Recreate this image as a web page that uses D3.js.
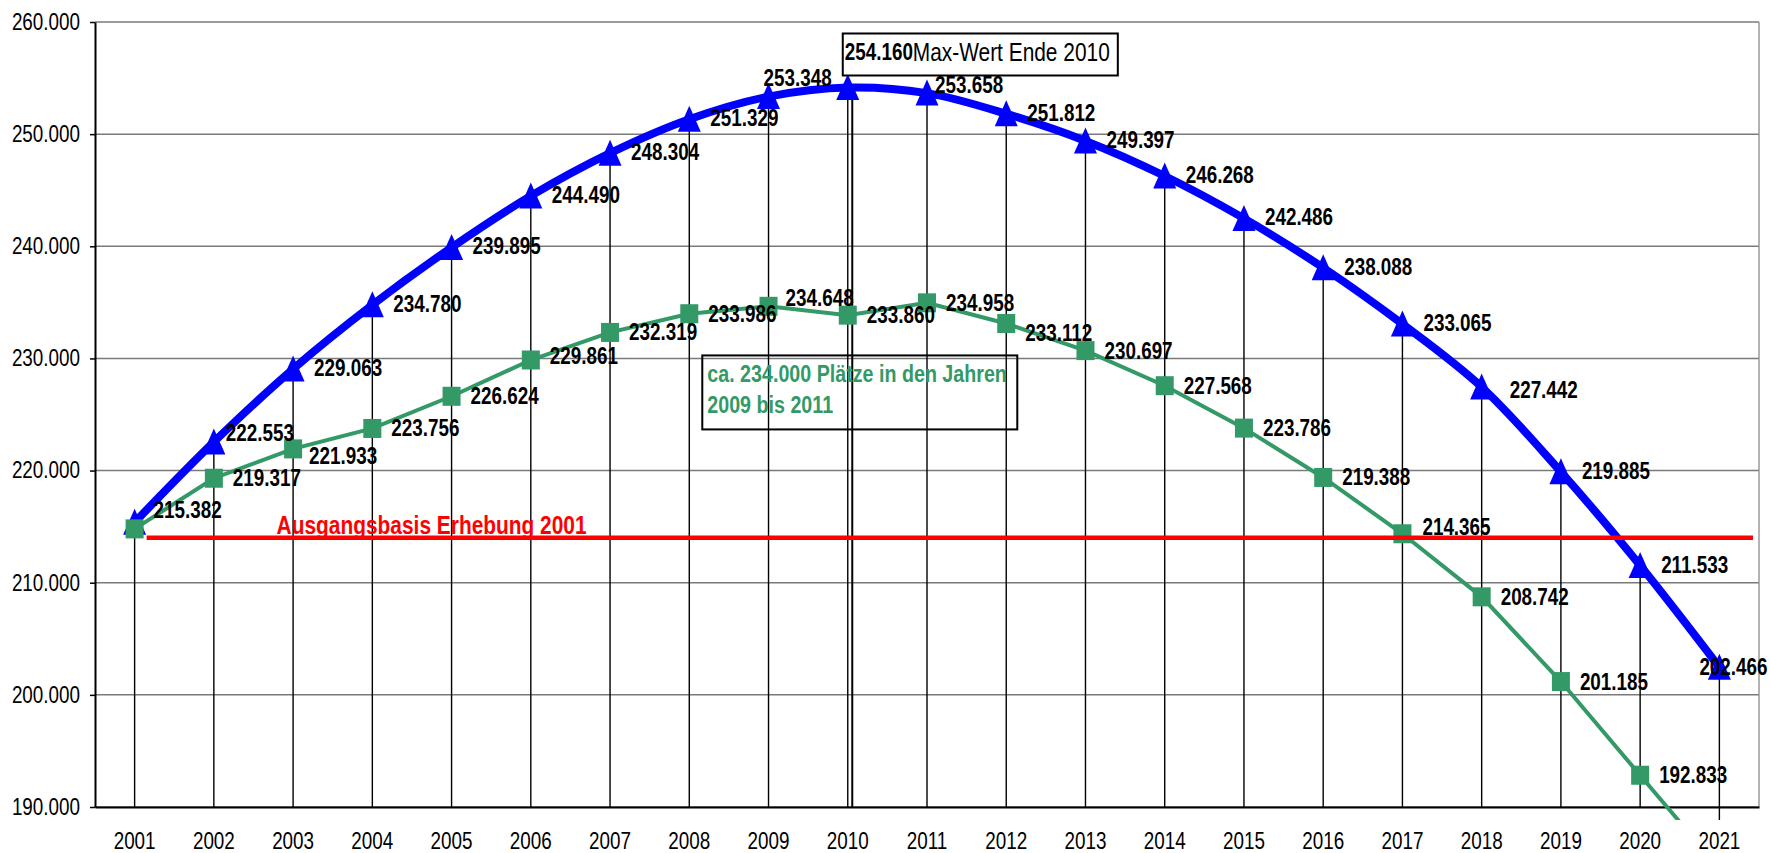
<!DOCTYPE html>
<html>
<head>
<meta charset="utf-8">
<script src="https://cdn.jsdelivr.net/npm/d3@7"></script>
<style>
body { margin: 0; background: #fff; }
</style>
</head>
<body>
<svg id="chart" width="1770" height="853"></svg>
<script>

var years = ["2001", "2002", "2003", "2004", "2005", "2006", "2007", "2008", "2009", "2010", "2011",
             "2012", "2013", "2014", "2015", "2016", "2017", "2018", "2019", "2020", "2021"];

// upper series (blue triangles)
var demand = [215382, 222553, 229063, 234780, 239895, 244490, 248304, 251329, 253348, 254160, 253658,
              251812, 249397, 246268, 242486, 238088, 233065, 227442, 219885, 211533, 202466];

// lower series (green squares), first and last point are unlabelled
var places = [214800, 219317, 221933, 223756, 226624, 229861, 232319, 233986, 234648, 233860, 234958,
              233112, 230697, 227568, 223786, 219388, 214365, 208742, 201185, 192833, 184500];
var placesNoLabel = ["2001", "2021"];

var yTicks = [190000, 200000, 210000, 220000, 230000, 240000, 250000, 260000];

var baseValue = 214000;
var baseLabel = "Ausgangsbasis Erhebung 2001";
var maxNote = "Max-Wert Ende 2010";
var plateauNote = ["ca. 234.000 Plätze in den Jahren", "2009 bis 2011"];

// hand-moved data labels: [dx, dy] from the point
var demandNudge = {"2001": [19, -12], "2002": [12, -9], "2009": [-5, -19], "2010": [-3, -35],
                   "2011": [8, -8], "2018": [28, 3], "2021": [-20, 0]};
var placesNudge = {"2003": [16, 7], "2006": [19, -4], "2009": [17, -8], "2012": [19, 9], "2017": [20, -7]};

var svg = d3.select("#chart"),
    margin = {top: 22, right: 11, bottom: 46, left: 95},
    width = +svg.attr("width") - margin.left - margin.right,
    height = +svg.attr("height") - margin.top - margin.bottom,
    g = svg.append("g").attr("transform", "translate(" + margin.left + "," + margin.top + ")");

var de = d3.formatLocale({decimal: ",", thousands: ".", grouping: [3], currency: ["", " €"]});
var fmt = de.format(",d");

// narrow font if there is one, otherwise squeeze Liberation Sans
function fontAvailable(name) {
	var ctx = document.createElement("canvas").getContext("2d");
	ctx.font = "40px monospace";
	var w0 = ctx.measureText("254.160 Max-Wert").width;
	ctx.font = "40px '" + name + "', monospace";
	return ctx.measureText("254.160 Max-Wert").width !== w0;
}
var hasNarrow = fontAvailable("Liberation Sans Narrow");
var fontFamily = hasNarrow ? "'Liberation Sans Narrow', 'Arial Narrow', sans-serif" : "'Liberation Sans', Arial, sans-serif";
var squeeze = hasNarrow ? 1 : 0.82;

function narrow(sel) {
	sel.style("font-family", fontFamily).each(function() {
		if (squeeze === 1) return;
		var t = d3.select(this), ax = +t.attr("x") || 0;
		t.attr("transform", "translate(" + ax + ",0) scale(" + squeeze + ",1) translate(" + (-ax) + ",0)");
	});
}

var x = d3.scaleBand().domain(years).range([0, width]),
    y = d3.scaleLinear().domain([190000, 260000]).range([height, 0]);

function cx(yr) { return x(yr) + x.bandwidth() / 2; }

g.append("defs").append("clipPath").attr("id", "plotclip")
	.append("rect").attr("x", -20).attr("y", -20).attr("width", width + 40).attr("height", height + 33);

// gridlines + frame
g.append("g").selectAll("line")
	.data(yTicks)
	.enter().append("line")
		.attr("x1", 0).attr("x2", width)
		.attr("y1", function(d) { return y(d); })
		.attr("y2", function(d) { return y(d); })
		.attr("stroke", "#7a7a7a")
		.attr("stroke-width", 1.5);

g.append("line")
	.attr("x1", width).attr("x2", width)
	.attr("y1", 0).attr("y2", height)
	.attr("stroke", "#9a9a9a")
	.attr("stroke-width", 1.5);

// drop lines
g.append("g").selectAll("line")
	.data(years)
	.enter().append("line")
		.attr("x1", cx).attr("x2", cx)
		.attr("y1", function(d, i) { return y(demand[i]); })
		.attr("y2", function(d, i) { return Math.min(y(Math.min(places[i], y.domain()[0])), height + 13); })
		.attr("stroke", "#000")
		.attr("stroke-width", 1.4);

var iMax = d3.maxIndex(demand);
g.append("line")
	.attr("x1", cx(years[iMax]) + 4.5).attr("x2", cx(years[iMax]) + 4.5)
	.attr("y1", y(demand[iMax]) + 6).attr("y2", height)
	.attr("stroke", "#000")
	.attr("stroke-width", 2);

// axes
var yAxis = g.append("g")
	.call(d3.axisLeft(y).tickValues(yTicks).tickSize(5).tickSizeOuter(0).tickPadding(10).tickFormat(fmt));
yAxis.select(".domain").attr("stroke", "#000").attr("stroke-width", 2);
yAxis.selectAll(".tick line").attr("stroke", "#000").attr("stroke-width", 1.5);
yAxis.selectAll("text").attr("fill", "#000").style("font-size", "23px").call(narrow);

var xAxis = g.append("g")
	.attr("transform", "translate(0," + height + ")")
	.call(d3.axisBottom(x).tickSize(0).tickSizeOuter(0).tickPadding(26));
xAxis.select(".domain").attr("stroke", "#000").attr("stroke-width", 2);
xAxis.selectAll("text").attr("fill", "#000").style("font-size", "23px").call(narrow);

// green plateau note
var px0 = cx("2008") + 13, py0 = y(230000) - 3;
g.append("rect")
	.attr("x", px0).attr("y", py0)
	.attr("width", 315).attr("height", 74)
	.attr("fill", "none")
	.attr("stroke", "#000")
	.attr("stroke-width", 2);

// series
var linePlaces = d3.line()
	.x(function(d, i) { return cx(years[i]); })
	.y(function(d) { return y(d); });

var lineDemand = d3.line()
	.curve(d3.curveCatmullRom.alpha(0.5))
	.x(function(d, i) { return cx(years[i]); })
	.y(function(d) { return y(d); });

var series = g.append("g").attr("clip-path", "url(#plotclip)");

series.append("path")
	.attr("d", lineDemand(demand))
	.attr("fill", "none")
	.attr("stroke", "#0000ff")
	.attr("stroke-width", 8)
	.attr("stroke-linejoin", "round");

series.selectAll(".tri")
	.data(demand)
	.enter().append("path")
		.attr("class", "tri")
		.attr("transform", function(d, i) { return "translate(" + cx(years[i]) + "," + y(d) + ")"; })
		.attr("d", "M0,-13.5L11.5,12.5L-11.5,12.5Z")
		.attr("fill", "#0000ff");

series.append("path")
	.attr("d", linePlaces(places))
	.attr("fill", "none")
	.attr("stroke", "#339966")
	.attr("stroke-width", 4);

series.selectAll(".sq")
	.data(places)
	.enter().append("rect")
		.attr("class", "sq")
		.attr("x", function(d, i) { return cx(years[i]) - 9; })
		.attr("y", function(d) { return y(d) - 9.5; })
		.attr("width", 18).attr("height", 19)
		.attr("fill", "#339966");

// base line on top of the series
g.append("line")
	.attr("x1", cx(years[0]) + 12).attr("x2", width - 6)
	.attr("y1", y(baseValue)).attr("y2", y(baseValue))
	.attr("stroke", "#ff0000")
	.attr("stroke-width", 4.5);

g.append("text")
	.attr("x", cx(years[0]) + 142)
	.attr("y", y(baseValue) - 4)
	.attr("fill", "#ff0000")
	.style("font-size", "25.5px")
	.style("font-weight", "bold")
	.text(baseLabel)
	.call(narrow);

// box behind max label
var noteLayer = g.append("g");

// data labels
function labels(values, nudge, def, skip) {
	g.append("g").selectAll("text")
		.data(values.map(function(v, i) { return {yr: years[i], v: v}; })
			.filter(function(d) { return skip.indexOf(d.yr) < 0; }))
		.enter().append("text")
			.attr("x", function(d) { return cx(d.yr) + (nudge[d.yr] || def)[0]; })
			.attr("y", function(d) { return y(d.v) + (nudge[d.yr] || def)[1] + 8; })
			.attr("fill", "#000")
			.style("font-size", "23px")
			.style("font-weight", "bold")
			.text(function(d) { return fmt(d.v); })
			.call(narrow);
}
labels(places, placesNudge, [19, 0], placesNoLabel);
labels(demand, demandNudge, [21, -1], []);

// max note
var mx = cx(years[iMax]) + demandNudge[years[iMax]][0],
    my = y(demand[iMax]) + demandNudge[years[iMax]][1];
var note = g.append("text")
	.attr("x", mx + 68)
	.attr("y", my + 9)
	.attr("fill", "#000")
	.style("font-size", "25.5px")
	.text(maxNote)
	.call(narrow);
var nw = note.node().getBoundingClientRect().width;
noteLayer.append("rect")
	.attr("x", mx - 2).attr("y", my - 19)
	.attr("width", 68 + nw + 10).attr("height", 42)
	.attr("fill", "#fff")
	.attr("stroke", "#000")
	.attr("stroke-width", 2);

g.append("g").selectAll("text")
	.data(plateauNote)
	.enter().append("text")
		.attr("x", px0 + 5)
		.attr("y", function(d, i) { return py0 + 27 + i * 31; })
		.attr("fill", "#339966")
		.style("font-size", "24px")
		.style("font-weight", "bold")
		.text(function(d) { return d; })
		.call(narrow);

</script>
</body>
</html>
